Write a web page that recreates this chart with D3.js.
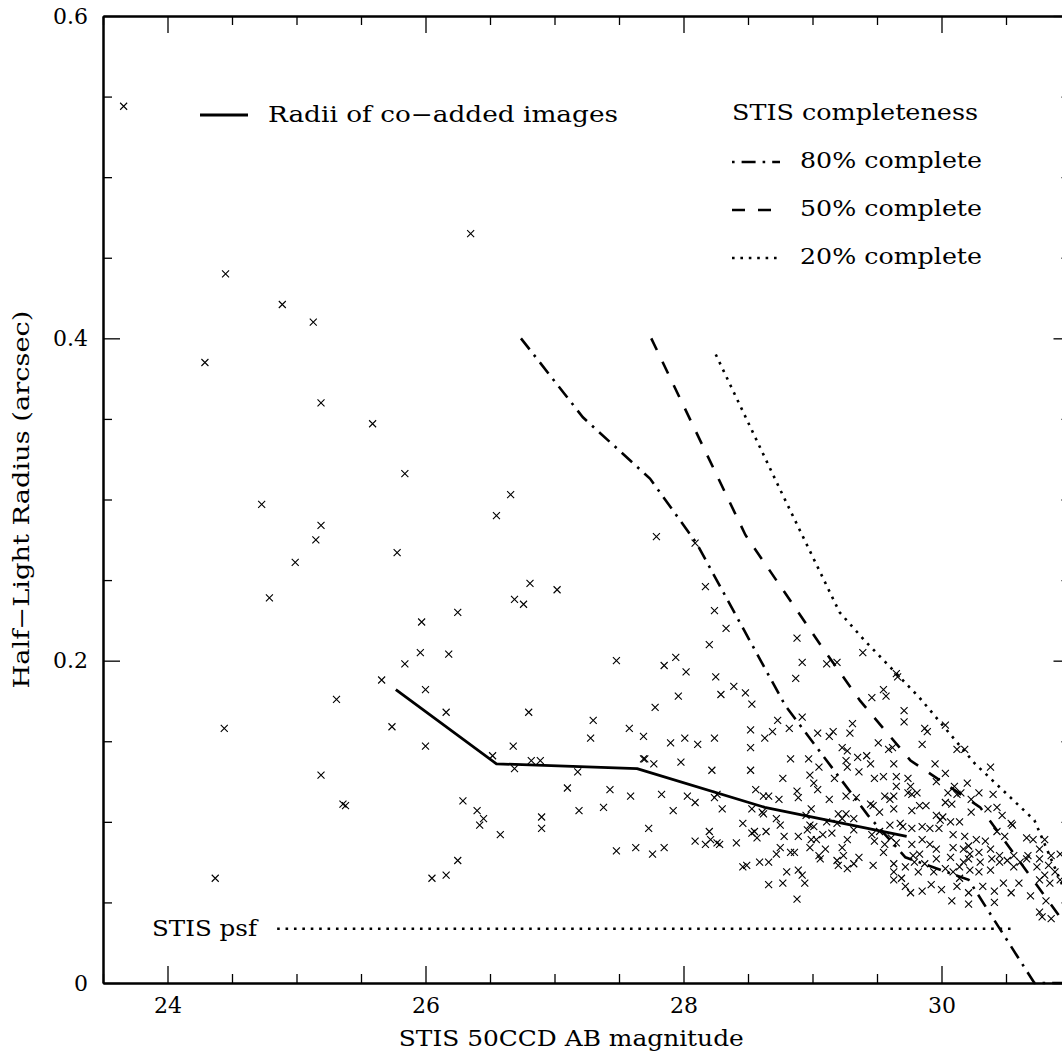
<!DOCTYPE html>
<html>
<head>
<meta charset="utf-8">
<script src="https://cdn.jsdelivr.net/npm/d3@7"></script>
<style>
  body { margin: 0; background: #fff; }
  text { font-family: "DejaVu Serif", serif; fill: #000; }
</style>
</head>
<body>
<div class="graph"></div>
<script>
// tick values
var xMajor = [24, 26, 28, 30];
var xMinor = [23.5, 24.5, 25, 25.5, 26.5, 27, 27.5, 28.5, 29, 29.5, 30.5];
var yMajor = [0, 0.2, 0.4, 0.6];
var yMinor = [0.05, 0.1, 0.15, 0.25, 0.3, 0.35, 0.45, 0.5, 0.55];

// galaxies: [AB magnitude, half-light radius (arcsec)]
var galaxies = [
  [23.66,0.544],[24.45,0.440],[24.89,0.421],[24.29,0.385],[25.13,0.410],[25.19,0.360],[25.59,0.347],
  [25.84,0.316],[24.73,0.297],[25.19,0.284],[25.15,0.275],[24.99,0.261],[24.79,0.239],[25.78,0.267],
  [25.31,0.176],[24.44,0.158],[25.19,0.129],[25.36,0.111],[25.38,0.110],[24.37,0.065],[26.35,0.465],
  [26.55,0.290],[26.66,0.303],[27.79,0.277],[28.09,0.273],[28.17,0.246],
  [26.81,0.248],[26.69,0.238],[26.76,0.235],[27.02,0.244],[26.25,0.230],[25.97,0.224],[25.96,0.205],
  [26.18,0.204],[25.84,0.198],[25.66,0.188],[26.00,0.182],[26.16,0.168],[26.80,0.168],[25.74,0.159],
  [26.00,0.147],[27.30,0.163],[27.28,0.152],[26.52,0.141],[26.68,0.147],[26.82,0.138],[26.89,0.138],
  [26.69,0.133],[27.18,0.131],[27.10,0.121],[27.19,0.107],[26.29,0.113],[26.40,0.107],[26.45,0.102],
  [26.42,0.098],[26.58,0.092],[26.90,0.103],[26.90,0.096],[26.25,0.076],[26.16,0.067],[26.05,0.065],
  [28.24,0.231],[28.33,0.220],[28.20,0.210],[27.48,0.200],[27.94,0.202],[27.85,0.197],[28.02,0.193],
  [28.25,0.190],[28.39,0.184],[28.48,0.180],[28.29,0.179],[28.53,0.173],[27.96,0.178],[27.78,0.171],
  [28.88,0.214],[28.92,0.199],[29.11,0.198],[29.19,0.199],[28.87,0.189],[28.73,0.163],[28.92,0.165],
  [28.82,0.158],[27.58,0.158],[27.69,0.153],[27.69,0.139],[27.70,0.139],[27.77,0.136],[27.90,0.149],
  [28.01,0.152],[28.11,0.148],[28.24,0.152],[27.98,0.137],[28.22,0.132],[28.52,0.132],[28.52,0.146],
  [28.52,0.157],[28.63,0.152],[28.69,0.156],[29.04,0.155],[29.13,0.153],[29.16,0.156],[29.29,0.155],
  [29.31,0.161],[29.23,0.146],[29.27,0.144],[29.26,0.138],[29.27,0.134],[29.35,0.140],[28.97,0.139],
  [28.83,0.139],[29.05,0.134],[28.98,0.129],[29.01,0.124],[29.04,0.120],[28.77,0.127],[28.88,0.119],
  [28.89,0.115],[29.17,0.127],[29.26,0.116],[28.56,0.120],[28.62,0.116],[28.66,0.116],[27.43,0.120],
  [27.59,0.116],[27.83,0.117],[28.03,0.116],[28.24,0.115],[28.26,0.117],[27.38,0.109],[27.92,0.107],
  [27.73,0.096],[27.76,0.080],[27.85,0.084],[27.48,0.082],[27.63,0.084],[29.36,0.131],[28.74,0.114],
  [29.13,0.114],[29.34,0.115],
  [28.09,0.112],[28.30,0.108],[28.53,0.108],[28.61,0.106],[28.62,0.105],[28.72,0.102],[28.75,0.098],
  [28.46,0.099],[28.53,0.093],[28.55,0.094],[28.57,0.090],[28.64,0.094],[28.20,0.094],[28.09,0.088],
  [28.17,0.086],[28.21,0.089],[28.26,0.087],[28.28,0.086],[28.41,0.087],[28.78,0.091],[28.89,0.091],
  [28.96,0.095],[28.98,0.098],[29.01,0.097],[28.99,0.089],[29.03,0.089],[29.08,0.092],[29.15,0.093],
  [29.27,0.089],[29.32,0.095],[29.19,0.099],[29.11,0.100],[29.23,0.102],[29.26,0.105],[29.32,0.102],
  [28.99,0.108],[28.95,0.104],[28.98,0.084],[29.05,0.079],[29.10,0.083],[29.06,0.077],[29.23,0.084],
  [29.24,0.079],[29.19,0.076],[29.20,0.073],[29.27,0.071],[29.32,0.074],[29.36,0.078],[28.72,0.080],
  [28.75,0.084],[28.83,0.081],[28.86,0.081],[28.46,0.072],[28.49,0.073],[28.59,0.075],[28.66,0.075],
  [28.80,0.069],[28.89,0.070],[28.92,0.067],[28.94,0.062],[28.66,0.061],[28.77,0.062],[28.88,0.052],
  [29.20,0.105],
  [29.39,0.205],[29.65,0.192],[29.66,0.190],[29.55,0.182],[29.57,0.178],[29.46,0.177],[29.71,0.169],
  [29.71,0.162],[29.87,0.158],[29.89,0.156],[29.85,0.148],[30.03,0.160],[30.12,0.145],[30.18,0.145],
  [29.51,0.149],[29.59,0.145],[29.62,0.146],[29.42,0.141],[29.45,0.136],[29.63,0.136],[29.95,0.136],
  [30.03,0.130],[30.38,0.134],[29.48,0.127],[29.55,0.128],[29.65,0.128],[29.74,0.127],[29.76,0.122],
  [29.65,0.122],[29.63,0.116],[29.56,0.116],[29.60,0.114],[29.74,0.118],[29.77,0.117],[29.81,0.118],
  [29.96,0.125],[30.20,0.124],[30.10,0.122],[30.05,0.118],[30.12,0.117],[30.15,0.118],[30.03,0.112],
  [30.08,0.111],[30.29,0.118],[30.40,0.117],[30.23,0.114],[29.45,0.111],[29.47,0.110],[29.83,0.110],
  [29.88,0.110],[30.36,0.108],[30.43,0.109],
  [29.52,0.106],[29.63,0.108],[29.77,0.107],[29.96,0.104],[30.01,0.103],[29.99,0.101],[30.07,0.100],
  [30.14,0.100],[30.23,0.106],[30.47,0.104],[30.54,0.099],[30.55,0.098],[29.52,0.094],[29.60,0.098],
  [29.68,0.099],[29.70,0.097],[29.77,0.096],[29.85,0.097],[29.91,0.096],[29.98,0.096],[29.46,0.092],
  [29.48,0.088],[29.61,0.090],[29.56,0.086],[29.65,0.087],[29.77,0.086],[29.85,0.089],[29.91,0.086],
  [30.09,0.092],[30.18,0.091],[30.21,0.085],[30.27,0.089],[30.34,0.088],[30.43,0.094],[30.49,0.091],
  [30.66,0.090],[30.71,0.089],[30.80,0.089],[29.55,0.081],[29.78,0.079],[29.83,0.080],[29.96,0.083],
  [30.09,0.084],[30.17,0.083],[30.22,0.080],[30.29,0.081],[30.38,0.083],[30.45,0.079],[30.56,0.079],
  [30.67,0.079],[30.76,0.083],[30.85,0.079],[30.92,0.080],[29.47,0.073],[29.63,0.074],[29.72,0.072],
  [29.79,0.075],[29.87,0.074],[29.96,0.077],[30.07,0.078],[30.17,0.075],[30.21,0.077],[30.14,0.072],
  [30.30,0.075],[30.39,0.077],[30.45,0.075],[30.51,0.076],[30.61,0.075],[30.66,0.077],[30.76,0.077],
  [30.83,0.073],[30.88,0.069],[30.80,0.067],[30.74,0.072],[30.56,0.072],[30.38,0.070],[30.29,0.069],
  [30.22,0.070],[30.09,0.069],[30.03,0.071],[29.94,0.069],[29.82,0.069],[29.63,0.069],[29.63,0.064],
  [29.69,0.065],[29.72,0.060],[29.76,0.056],[29.85,0.057],[29.92,0.061],[30.00,0.058],[30.12,0.060],
  [30.14,0.065],[30.21,0.056],[30.32,0.060],[30.41,0.057],[30.48,0.062],[30.54,0.056],[30.60,0.062],
  [30.69,0.054],[30.76,0.064],[30.84,0.062],[30.92,0.064],[30.08,0.051],[30.21,0.049],[30.41,0.050],
  [30.76,0.044],[30.81,0.051],[30.78,0.041],[30.85,0.040]
];

// radii of co-added images
var coaddMag = [25.77, 26.55, 27.64, 28.63, 29.73];
var coaddRad = [0.182, 0.136, 0.133, 0.109, 0.091];

// completeness limits
var c80Mag = [26.74, 27.22, 27.74, 28.10, 28.79, 29.43, 29.72, 30.21, 30.72, 31.0];
var c80Rad = [0.400, 0.351, 0.313, 0.273, 0.172, 0.104, 0.078, 0.064, 0.0, 0.0];
var c50Mag = [27.75, 28.48, 29.06, 29.37, 29.76, 30.30, 31.0];
var c50Rad = [0.400, 0.278, 0.210, 0.175, 0.138, 0.109, 0.032];
var c20Mag = [28.25, 28.75, 29.21, 29.41, 29.83, 30.26, 30.72, 31.0];
var c20Rad = [0.390, 0.306, 0.230, 0.212, 0.177, 0.136, 0.101, 0.049];

// STIS psf size
var psfMag = [24.85, 30.58];
var psfRad = [0.0337, 0.0337];

var W = 1062, H = 1053;
var margin = {top: 16, right: -8.5, bottom: 70, left: 103};
var width = W - margin.left - margin.right;     // 967.5
var height = H - margin.top - margin.bottom;    // 967

var x = d3.scaleLinear().domain([23.5, 31]).range([0, width]);
var y = d3.scaleLinear().domain([0, 0.6]).range([height, 0]);

var svg = d3.select(".graph").append("svg")
    .attr("width", W)
    .attr("height", H)
    .append("g")
    .attr("transform", "translate(" + margin.left + "," + margin.top + ")");

// ---- axes: ticks inside on all four sides
function axisStyle(g) {
    g.select(".domain").attr("stroke", "#000").attr("stroke-width", 2);
    g.selectAll(".tick line").attr("stroke", "#000").attr("stroke-width", 1.3);
    g.selectAll(".tick text").style("font-size", "22px").style("font-family", "DejaVu Serif");
}

svg.append("g")
    .attr("transform", "translate(0," + height + ")")
    .call(d3.axisBottom(x).tickValues(xMajor).tickSize(-17).tickSizeOuter(0).tickPadding(14).tickFormat(d3.format("d")))
    .call(axisStyle);
svg.append("g")
    .attr("transform", "translate(0," + height + ")")
    .call(d3.axisBottom(x).tickValues(xMinor).tickSize(-9).tickSizeOuter(0).tickFormat(""))
    .call(axisStyle);
svg.append("g")
    .call(d3.axisTop(x).tickValues(xMajor).tickSize(-17).tickSizeOuter(0).tickFormat(""))
    .call(axisStyle);
svg.append("g")
    .call(d3.axisTop(x).tickValues(xMinor).tickSize(-9).tickSizeOuter(0).tickFormat(""))
    .call(axisStyle);

svg.append("g")
    .call(d3.axisLeft(y).tickValues(yMajor).tickSize(-17).tickSizeOuter(0).tickPadding(15)
        .tickFormat(function(d) { return d === 0 ? "0" : d3.format(".1f")(d); }))
    .call(axisStyle);
svg.append("g")
    .call(d3.axisLeft(y).tickValues(yMinor).tickSize(-9).tickSizeOuter(0).tickFormat(""))
    .call(axisStyle);
svg.append("g")
    .attr("transform", "translate(" + width + ",0)")
    .call(d3.axisRight(y).tickValues(yMajor).tickSize(-17).tickSizeOuter(0).tickFormat(""))
    .call(axisStyle);
svg.append("g")
    .attr("transform", "translate(" + width + ",0)")
    .call(d3.axisRight(y).tickValues(yMinor).tickSize(-9).tickSizeOuter(0).tickFormat(""))
    .call(axisStyle);

// axis titles
svg.append("text")
    .attr("x", x(27.13)).attr("y", height + 63)
    .attr("text-anchor", "middle")
    .attr("textLength", 345).attr("lengthAdjust", "spacingAndGlyphs")
    .style("font-size", "22px")
    .text("STIS 50CCD AB magnitude");

svg.append("text")
    .attr("transform", "translate(-74," + (height / 2) + ") rotate(-90)")
    .attr("text-anchor", "middle")
    .attr("textLength", 378).attr("lengthAdjust", "spacingAndGlyphs")
    .style("font-size", "22px")
    .text("Half\u2212Light Radius (arcsec)");

// ---- lines
function pairs(ms, rs) { return ms.map(function(m, i) { return [m, rs[i]]; }); }
var line = d3.line().x(function(d) { return x(d[0]); }).y(function(d) { return y(d[1]); });

svg.append("path").datum(pairs(psfMag, psfRad))
    .attr("d", line).attr("fill", "none").attr("stroke", "#000")
    .attr("stroke-width", 2.6).attr("stroke-dasharray", "2.6,5.8");

svg.append("path").datum(pairs(c80Mag, c80Rad))
    .attr("d", line).attr("fill", "none").attr("stroke", "#000")
    .attr("stroke-width", 2.6).attr("stroke-dasharray", "14,7,2.6,7");

svg.append("path").datum(pairs(c50Mag, c50Rad))
    .attr("d", line).attr("fill", "none").attr("stroke", "#000")
    .attr("stroke-width", 2.6).attr("stroke-dasharray", "13,13");

svg.append("path").datum(pairs(c20Mag, c20Rad))
    .attr("d", line).attr("fill", "none").attr("stroke", "#000")
    .attr("stroke-width", 2.6).attr("stroke-dasharray", "2.6,5.8");

svg.append("path").datum(pairs(coaddMag, coaddRad))
    .attr("d", line).attr("fill", "none").attr("stroke", "#000")
    .attr("stroke-width", 2.8).attr("stroke-linejoin", "round");

// ---- points (crosses)
svg.selectAll(".gal").data(galaxies).enter().append("path")
    .attr("class", "gal")
    .attr("transform", function(d) { return "translate(" + x(d[0]) + "," + y(d[1]) + ")"; })
    .attr("d", "M-3.5,-3.5L3.5,3.5M-3.5,3.5L3.5,-3.5")
    .attr("stroke", "#000").attr("stroke-width", 1.1).attr("fill", "none");

// ---- labels and legend
svg.append("text")
    .attr("x", 49).attr("y", 936 - margin.top)
    .attr("textLength", 105).attr("lengthAdjust", "spacingAndGlyphs")
    .style("font-size", "22px")
    .text("STIS psf");

var leg = svg.append("g").attr("transform", "translate(" + (-margin.left) + "," + (-margin.top) + ")");

leg.append("line").attr("x1", 200).attr("x2", 248).attr("y1", 115).attr("y2", 115)
    .attr("stroke", "#000").attr("stroke-width", 2.8);
leg.append("text").attr("x", 268).attr("y", 122)
    .attr("textLength", 350).attr("lengthAdjust", "spacingAndGlyphs")
    .style("font-size", "22px").text("Radii of co\u2212added images");

leg.append("text").attr("x", 732).attr("y", 120)
    .attr("textLength", 246).attr("lengthAdjust", "spacingAndGlyphs")
    .style("font-size", "22px").text("STIS completeness");

var legItems = [
    {label: "80% complete", dash: "2.6,7,14,7,2.6,7,10", y: 162},
    {label: "50% complete", dash: "13,13", y: 210},
    {label: "20% complete", dash: "2.6,5.8", y: 258}
];
legItems.forEach(function(it) {
    leg.append("line").attr("x1", 732).attr("x2", 780).attr("y1", it.y).attr("y2", it.y)
        .attr("stroke", "#000").attr("stroke-width", 2.6).attr("stroke-dasharray", it.dash);
    leg.append("text").attr("x", 800).attr("y", it.y + 6)
        .attr("textLength", 182).attr("lengthAdjust", "spacingAndGlyphs")
        .style("font-size", "22px").text(it.label);
});
</script>
</body>
</html>
